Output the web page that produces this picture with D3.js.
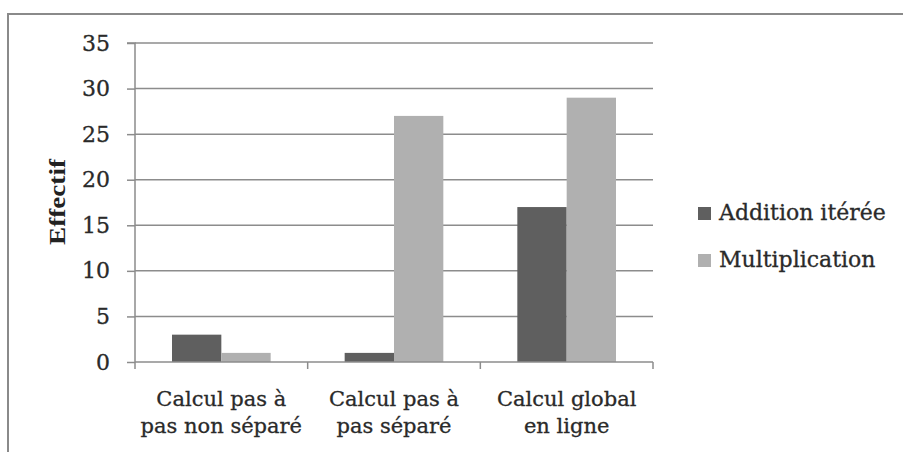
<!DOCTYPE html>
<html><head><meta charset="utf-8">
<script src="https://cdn.jsdelivr.net/npm/d3@7"></script>
<style>html,body{margin:0;padding:0;background:#fff;}</style>
</head><body>
<svg id="c" width="903" height="452"></svg>
<script>
const categories = [["Calcul pas à","pas non séparé"],["Calcul pas à","pas séparé"],["Calcul global","en ligne"]];
const seriesNames = ["Addition itérée","Multiplication"];
const additionValues = [3, 1, 17];
const multiplicationValues = [1, 27, 29];
const yTicks = [0, 5, 10, 15, 20, 25, 30, 35];
const colors = ["#5f5f5f", "#b0b0b0"];

(function(){
const svg = d3.select("#c");
const font = "DejaVu Serif";
const textColor = "#2a2a2a";

// outer frame
svg.append("rect").attr("x", 8).attr("y", 14).attr("width", 1000).attr("height", 1000)
  .attr("fill", "none").attr("stroke", "#8a8a8a").attr("stroke-width", 2);

const pLeft = 135, pRight = 653, pTop = 43, pBottom = 362;
const x = d3.scaleBand().domain(d3.range(categories.length)).range([pLeft, pRight]).paddingInner(0).paddingOuter(0);
const y = d3.scaleLinear().domain([0, 35]).range([pBottom, pTop]);

// gridlines
svg.append("g").selectAll("line").data(yTicks.filter(d => d > 0)).join("line")
  .attr("x1", pLeft).attr("x2", pRight).attr("y1", d => y(d)).attr("y2", d => y(d))
  .attr("stroke", "#8c8c8c").attr("stroke-width", 1.5);

// bars
const bw = x.bandwidth();
const barW = bw / 3.5;
const data = categories.map((c, i) => [additionValues[i], multiplicationValues[i]]);
const g = svg.append("g");
data.forEach((vals, i) => {
  const start = x(i) + (bw - 2 * barW) / 2;
  vals.forEach((v, s) => {
    g.append("rect").attr("x", start + s * barW).attr("width", barW)
      .attr("y", y(v)).attr("height", y(0) - y(v)).attr("fill", colors[s]);
  });
});

// y axis
const yAxis = d3.axisLeft(y).tickValues(yTicks).tickSize(8).tickPadding(17);
const ya = svg.append("g").attr("transform", `translate(${pLeft},0)`).call(yAxis);
ya.select(".domain").attr("stroke", "#8c8c8c").attr("stroke-width", 1.5).attr("d", `M-8,${pTop}H0V${pBottom}`);
ya.selectAll(".tick line").attr("stroke", "#8c8c8c").attr("stroke-width", 1.5);
ya.selectAll("text").attr("font-family", font).attr("font-size", 22).attr("fill", textColor)
  .attr("stroke", textColor).attr("stroke-width", 0.3);

// x axis
const xa = svg.append("g").attr("transform", `translate(0,${pBottom})`);
xa.append("line").attr("x1", pLeft).attr("x2", pRight).attr("stroke", "#8c8c8c").attr("stroke-width", 1.5);
const bounds = d3.range(categories.length + 1).map(i => i < categories.length ? x(i) : pRight);
xa.selectAll(".tk").data(bounds).join("line").attr("class", "tk")
  .attr("x1", d => d).attr("x2", d => d).attr("y1", 0).attr("y2", 7)
  .attr("stroke", "#8c8c8c").attr("stroke-width", 1.5);
categories.forEach((lines, i) => {
  const t = xa.append("text").attr("text-anchor", "middle").attr("font-family", font)
    .attr("font-size", 21).attr("fill", textColor).attr("stroke", textColor).attr("stroke-width", 0.3);
  lines.forEach((l, j) => t.append("tspan").attr("x", x(i) + bw / 2).attr("y", 44 + j * 27).text(l));
});

// y title
svg.append("text").attr("transform", "translate(65,202) rotate(-90)").attr("text-anchor", "middle")
  .attr("font-family", "Liberation Serif").attr("font-weight", "bold").attr("font-size", 24)
  .attr("fill", "#222").attr("textLength", 86).attr("lengthAdjust", "spacingAndGlyphs").text("Effectif");

// legend
const leg = svg.append("g");
seriesNames.forEach((n, i) => {
  const cy = 213 + i * 47;
  leg.append("rect").attr("x", 698).attr("y", cy - 6).attr("width", 13).attr("height", 13).attr("fill", colors[i]);
  leg.append("text").attr("x", 719).attr("y", cy + 7).attr("font-family", font).attr("font-size", 22)
    .attr("fill", textColor).attr("stroke", textColor).attr("stroke-width", 0.3).text(n);
});
})();
</script>
</body></html>
